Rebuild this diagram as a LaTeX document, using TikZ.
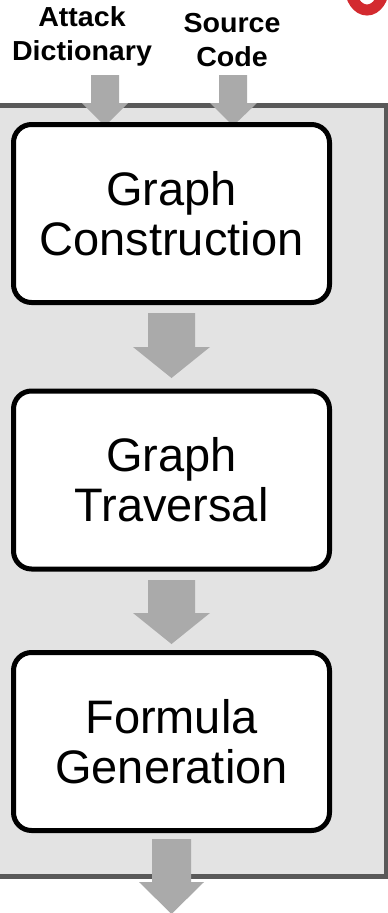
\documentclass[tikz,border=0pt]{standalone}
\usepackage{fontspec}
\setmainfont{Liberation Sans}
\definecolor{panelfill}{HTML}{E3E3E3}
\definecolor{panelline}{HTML}{595959}
\definecolor{flowgray}{HTML}{AAAAAA}
\definecolor{markred}{HTML}{D32A2F}
\begin{document}
\begin{tikzpicture}[x=1pt,y=-1pt,
  stage/.style={draw=black,line width=5pt,fill=white,rounded corners=18pt,
    minimum width=316pt,minimum height=178pt,inner sep=0pt,
    align=center,font=\fontsize{47}{50}\selectfont},
  inlabel/.style={align=center,font=\addfontfeature{FakeStretch=1.04}\bfseries\fontsize{27.5}{34}\selectfont},
  flow/.style={fill=flowgray,draw=none}]
\useasboundingbox (0,0) rectangle (388,913);
% lower part of a red step marker at the top right corner
\begin{scope}
\clip (0,0) rectangle (388,913);
\draw[markred,line width=11pt] (367,-14) ellipse [x radius=17,y radius=24];
\end{scope}
% grey panel holding the pipeline
\draw[fill=panelfill,draw=panelline,line width=5pt] (-10,105.5) rectangle (386.5,876.5);
% input labels
\node[inlabel] (dict) at (82,36) {Attack\\Dictionary};
\node[inlabel] (src) at (232,40) {Source\\Code};
% pipeline stages (positions)
\coordinate (c1) at (171.5,213.5);
\coordinate (c2) at (171.5,480);
\coordinate (c3) at (171.5,741.5);
% block arrows
\fill[flow] (91,75) -- (119,75) -- (119,103) -- (128,103) -- (105,126) -- (82,103) -- (91,103) -- cycle;
\fill[flow] (219,75) -- (247,75) -- (247,103) -- (257,103) -- (233,126) -- (210,103) -- (219,103) -- cycle;
\fill[flow] (148,313) -- (195,313) -- (195,347) -- (210,347) -- (171.5,378) -- (133,347) -- (148,347) -- cycle;
\fill[flow] (148,580) -- (195,580) -- (195,613) -- (210,613) -- (171.5,644) -- (133,613) -- (148,613) -- cycle;
\fill[flow] (152,839) -- (191,839) -- (191,882) -- (204,882) -- (171.5,914) -- (139,882) -- (152,882) -- cycle;
% stages
\node[stage] (s1) at (c1) {Graph\\Construction};
\node[stage] (s2) at (c2) {Graph\\Traversal};
\node[stage] (s3) at (c3) {Formula\\Generation};
\end{tikzpicture}
\end{document}
